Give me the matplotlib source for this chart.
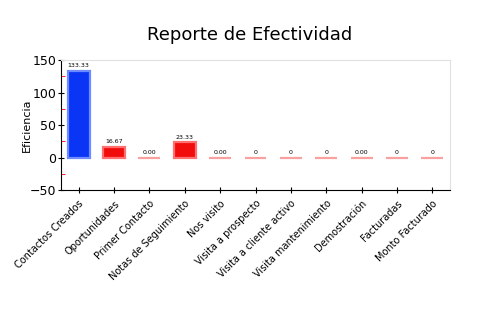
import numpy as np
import matplotlib
matplotlib.use("Agg")
import matplotlib.pyplot as plt
from matplotlib.ticker import MultipleLocator

# datos del reporte
categorias = ["Contactos Creados", "Oportunidades", "Primer Contacto",
              "Notas de Seguimiento", "Nos visito", "Visita a prospecto",
              "Visita a cliente activo", "Visita mantenimiento",
              "Demostración", "Facturadas", "Monto Facturado"]
valores = [133.33, 16.67, 0.00, 23.33, 0.00, 0, 0, 0, 0.00, 0, 0]
etiquetas = ["133.33", "16.67", "0.00", "23.33", "0.00", "0", "0", "0",
             "0.00", "0", "0"]

colores = []
bordes = []
for i, v in enumerate(valores):
    if i == 0:
        colores.append("#0a35f5")
        bordes.append("#6f8cff")
    elif v > 0:
        colores.append("#f20d0d")
        bordes.append("#ff7070")
    else:
        colores.append("#f58080")
        bordes.append("#f9a0a0")

fig = plt.figure(figsize=(5, 3.3), dpi=100)
ax = fig.add_axes([0.122, 0.424, 0.778, 0.394])

x = np.arange(len(categorias))
ax.bar(x, valores, width=0.62, color=colores, edgecolor=bordes, linewidth=1.6)

for xi, v, t in zip(x, valores, etiquetas):
    ax.text(xi, v + 4, t, ha="center", va="bottom", fontsize=4.5)

ax.set_xlim(-0.5, 10.5)
ax.set_ylim(-50, 150)
ax.yaxis.set_major_locator(MultipleLocator(50))
ax.yaxis.set_minor_locator(MultipleLocator(25))
ax.tick_params(axis="y", which="minor", color="red", length=3, direction="in")
ax.tick_params(axis="y", which="major", labelsize=9, length=5, direction="inout", pad=1)
ax.tick_params(axis="x", length=5, direction="inout", labelsize=7)

ax.set_xticks(x)
ax.set_xticklabels(categorias, rotation=45, ha="right", rotation_mode="anchor")

for s in ["top", "right"]:
    ax.spines[s].set_color("#e0e0e0")
    ax.spines[s].set_linewidth(0.8)

ax.set_ylabel("Eficiencia", fontsize=8)
ax.yaxis.set_label_coords(-0.075, 0.5)
fig.suptitle("Reporte de Efectividad", fontsize=13, y=0.92)

plt.savefig("out.png", dpi=100)
